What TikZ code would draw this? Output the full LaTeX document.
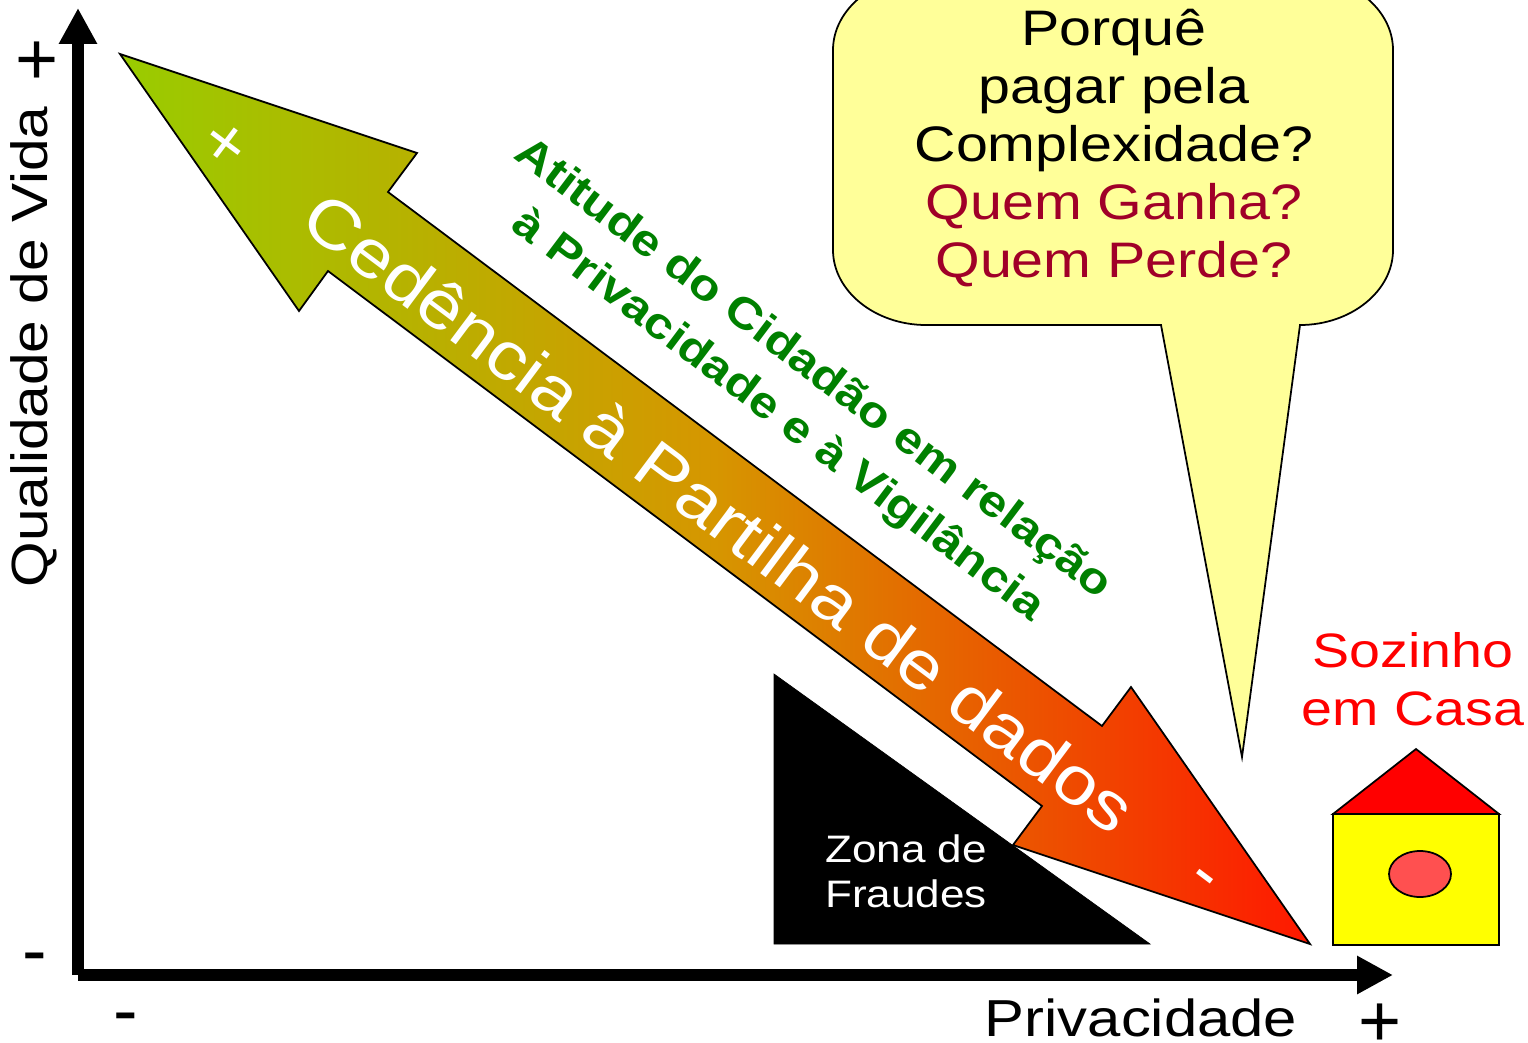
\documentclass[tikz,border=0pt]{standalone}
\usepackage{fontspec}
\setmainfont[FakeStretch=1.15]{Liberation Sans}
\newfontfamily\plainfont{Liberation Sans}
\usetikzlibrary{arrows.meta}
\definecolor{arrowgreen}{RGB}{153,204,0}
\definecolor{arrowmid}{RGB}{214,150,0}
\definecolor{arrowred}{RGB}{255,24,0}
\definecolor{balloon}{RGB}{255,255,153}
\definecolor{darkred}{RGB}{160,0,40}
\definecolor{citizen}{RGB}{0,128,0}
\definecolor{window}{RGB}{255,80,80}
\definecolor{housewall}{RGB}{255,255,0}
\tikzset{
	axisline/.style={line width=6.8pt,-{Triangle[length=20.4pt,width=20.4pt]}},
	thinline/.style={draw=black,line width=1pt},
	bigtext/.style={font=\fontsize{28.4}{32.9}\selectfont,align=center,inner sep=0},
	signtext/.style={inner sep=0,font=\plainfont\fontsize{42}{48}\selectfont},
}
\begin{document}
\begin{tikzpicture}[x=0.02cm,y=-0.02cm]
		%%%%% START %%%%%
		\useasboundingbox (0,0) rectangle (1528,1042);
		\clip (0,0) rectangle (1528,1042);
		
		% axes
		\coordinate (origin) at (78,975);
		\coordinate (ytop) at (78,8);
		\coordinate (xend) at (1393,975);
		\draw[axisline] (origin) -- (ytop);
		\draw[axisline] (origin) -- (xend);
		
		\node[rotate=90,inner sep=0,font=\fontsize{29}{32}\selectfont] (quality) at (34,347) {Qualidade de Vida};
		\node[signtext] (yplus) at (37,63) {+};
		\node[signtext] (yminus) at (35,964) {-};
		\node[bigtext,font=\fontsize{29.6}{34}\selectfont] (privacy) at (1141,1018) {Privacidade};
		\node[signtext] (xplus) at (1380,1025) {+};
		\node[signtext] (xminus) at (126,1024) {-};
		
		% fraud zone
		\draw[fill=black] (774,674) -- (1150,944) -- (774,944) -- cycle;
		\node[align=left,text=white,inner sep=0,anchor=west,font=\fontsize{21.8}{25.5}\selectfont] (fraud) at (825,871) {Zona de\\Fraudes};
		
		% big arrow
		\shade[left color=arrowgreen,right color=arrowred,middle color=arrowmid,thinline]
			(120,54) -- (417,153) -- (388,192) -- (1102,726) -- (1131,687) -- (1310,944)
			-- (1013,845) -- (1042,806) -- (328,271) -- (299,311) -- cycle;
		\node[text=white,inner sep=0,rotate=-36.8,font=\fontsize{38.4}{44}\selectfont] (cession) at (720,512) {Cedência à Partilha de dados};
		\node[text=white,inner sep=0,rotate=-37,font=\plainfont\fontsize{40}{44}\selectfont] (arrowplus) at (224,146) {+};
		\node[text=white,inner sep=0,rotate=-37,font=\plainfont\fontsize{40}{44}\selectfont] (arrowminus) at (1200,883) {-};
		
		\node[text=citizen,inner sep=0,rotate=-37,align=center,font=\bfseries\fontsize{24.8}{33.2}\selectfont] (attitude) at (795,393) {Atitude do Cidadão em relação\\à Privacidade e à Vigilância};
		
		% balloon
		\draw[fill=balloon,thinline] (926,-25) -- (1300,-25) .. controls (1351,-25) and (1393,9) .. (1393,50)
			-- (1393,250) .. controls (1393,291) and (1351,325) .. (1300,325)
			-- (1242,757) -- (1161,325) -- (926,325)
			.. controls (875,325) and (833,291) .. (833,250) -- (833,50)
			.. controls (833,9) and (875,-25) .. (926,-25) -- cycle;
		\node[bigtext] (why) at (1114,148) {Porquê\\pagar pela\\Complexidade?\\\textcolor{darkred}{Quem Ganha?}\\\textcolor{darkred}{Quem Perde?}};
		
		% house
		\node[text=red,align=center,inner sep=0,font=\fontsize{27.5}{32.9}\selectfont] (alone) at (1413,679) {Sozinho\\em Casa};
		\draw[fill=red,thinline] (1333,814) -- (1416,749) -- (1499,814) -- cycle;
		\draw[fill=housewall,thinline] (1333,814) rectangle (1499,945);
		\draw[fill=window,thinline] (1420,874) ellipse (31 and 23);
		%%%%% END %%%%%
	\end{tikzpicture}
\end{document}
